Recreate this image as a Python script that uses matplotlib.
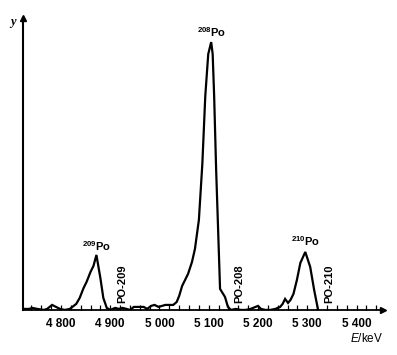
import matplotlib
matplotlib.use("Agg")
import matplotlib.pyplot as plt
from matplotlib.ticker import MultipleLocator, FuncFormatter

plt.rcParams['font.family'] = ['Liberation Sans', 'DejaVu Sans']
plt.rcParams['mathtext.fontset'] = 'custom'
plt.rcParams['mathtext.rm'] = 'Liberation Sans'
plt.rcParams['mathtext.it'] = 'Liberation Sans:italic'
plt.rcParams['mathtext.bf'] = 'Liberation Sans:bold'

# spectrum (energy in keV, counts in arbitrary units)
energy = [4727, 4735, 4742, 4752, 4765, 4772, 4782, 4790, 4798, 4808, 4818,
          4831, 4838, 4846, 4852, 4860, 4866, 4872, 4880, 4886, 4893, 4900,
          4910, 4918, 4925, 4933, 4940, 4948, 4958, 4968, 4975, 4983, 4990,
          4998, 5005, 5012, 5020, 5028, 5035, 5040, 5046, 5052, 5058, 5066,
          5072, 5080, 5087, 5093, 5099, 5105, 5108, 5111, 5115, 5123, 5133,
          5139, 5145, 5155, 5165, 5175, 5185, 5195, 5200, 5206, 5215, 5225,
          5235, 5245, 5250, 5255, 5261, 5266, 5272, 5279, 5286, 5296, 5306,
          5314, 5322]
counts = [1, 1, 2, 1, 0, 1, 5, 3, 1, 0, 1,
          6, 12, 22, 28, 38, 44, 55, 32, 12, 2, 0,
          2, 1, 2, 1, 0, 3, 3, 3, 1, 4, 5,
          3, 4, 5, 5, 5, 8, 14, 24, 30, 36, 48,
          61, 90, 146, 214, 256, 268, 256, 214, 141, 21, 13,
          3, 0, 1, 0, 0, 1, 3, 4, 1, 0, 0,
          1, 3, 6, 11, 7, 10, 16, 30, 47, 58, 43,
          20, 0]

peak_names = ['209', '208', '210']
peak_pos = [4873, 5106, 5296]
peak_top = [57, 271, 62]

line_names = ['PO-209', 'PO-208', 'PO-210']
line_pos = [4924, 5162, 5345]

fig = plt.figure(figsize=(3.97, 3.55), dpi=100)
ax = fig.add_axes([0.058, 0.127, 0.907, 0.822])

ax.plot(energy, counts, color='black', lw=1.6, solid_joinstyle='miter')

for name, xp, yp in zip(peak_names, peak_pos, peak_top):
    ax.text(xp, yp, r'$^{\mathbf{%s}}$Po' % name, ha='center', va='bottom',
            fontsize=8, fontweight='bold')

for name, xp in zip(line_names, line_pos):
    ax.text(xp, 7, name, rotation=90, ha='center', va='bottom',
            fontsize=8, fontweight='bold')

ax.set_xlim(4723, 5454)
ax.set_ylim(0, 292)

for s in ['top', 'right']:
    ax.spines[s].set_visible(False)
ax.spines['left'].set_linewidth(1.5)
ax.spines['bottom'].set_linewidth(1.3)

ax.xaxis.set_major_locator(MultipleLocator(100))
ax.xaxis.set_minor_locator(MultipleLocator(20))
ax.xaxis.set_major_formatter(FuncFormatter(lambda v, p: '{:,}'.format(int(v)).replace(',', ' ')))
ax.tick_params(axis='x', which='both', direction='in', length=3.5, width=0.9,
               labelsize=8.5, pad=6)
for lab in ax.get_xticklabels():
    lab.set_fontweight('bold')
ax.set_yticks([])

# axis arrows
ax.plot(1, 0, '>', color='black', ms=4, transform=ax.transAxes, clip_on=False)
ax.plot(0, 1, '^', color='black', ms=4, transform=ax.transAxes, clip_on=False)

ax.text(-0.02, 0.985, 'y', transform=ax.transAxes, ha='right', va='center',
        fontsize=9, family='Liberation Serif', style='italic', fontweight='bold')
fig.text(0.965, 0.046, r'$\mathit{E}$/keV', ha='right', va='center', fontsize=8.5)

fig.savefig('out.png', dpi=100)
